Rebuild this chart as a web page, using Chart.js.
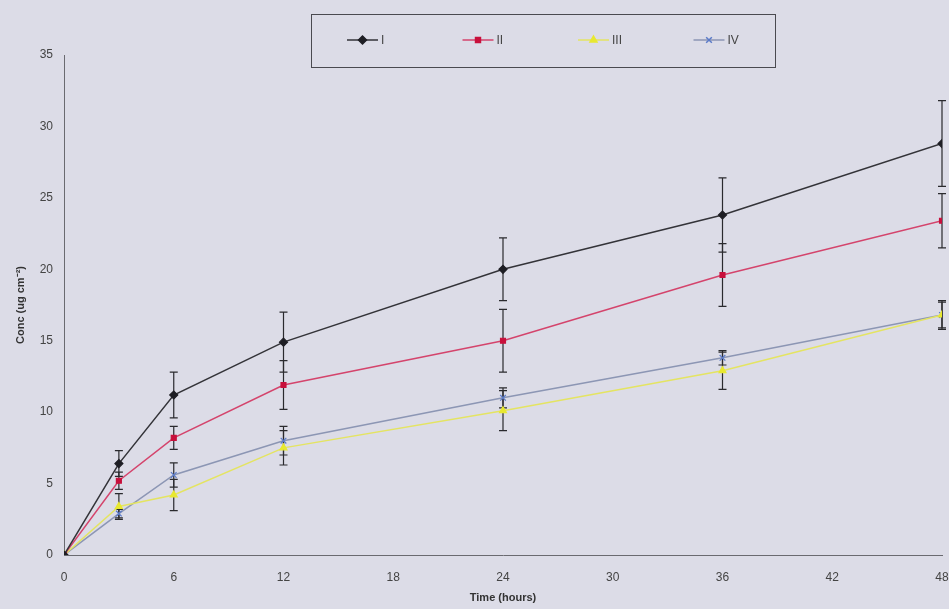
<!DOCTYPE html>
<html>
<head>
<meta charset="utf-8">
<script src="https://cdn.jsdelivr.net/npm/chart.js@4"></script>
<style>
  html, body { margin:0; padding:0; background:#dcdce7; }
  #wrap { width:949px; height:609px; position:relative; }
</style>
</head>
<body>
<div id="wrap"><canvas id="chartConc"></canvas></div>
<script>
// ── Datos ─────────────────────────────────────────────────────────────────────
const TIEMPOS = [0, 3, 6, 12, 24, 36, 48];
const X_TICKS = [0, 6, 12, 18, 24, 30, 36, 42, 48];

const SERIES = ['I', 'II', 'III', 'IV'];
const CONC_I   = [0, 6.4, 11.2, 14.9, 20.0, 23.8, 28.8];
const CONC_II  = [0, 5.2, 8.2, 11.9, 15.0, 19.6, 23.4];
const CONC_III = [0, 3.4, 4.2, 7.5, 10.1, 12.9, 16.8];
const CONC_IV  = [0, 2.9, 5.6, 8.0, 11.0, 13.8, 16.8];

const ERR_I   = [0, 0.9, 1.6, 2.1, 2.2, 2.6, 3.0];
const ERR_II  = [0, 0.6, 0.8, 1.7, 2.2, 2.2, 1.9];
const ERR_III = [0, 0.9, 1.1, 1.2, 1.4, 1.3, 1.0];
const ERR_IV  = [0, 0.3, 0.85, 1.0, 0.7, 0.5, 0.9];

const FONT = 'Liberation Sans, Arial, sans-serif';
const bg = '#dcdce7';

const toXY = arr => arr.map((v, i) => ({ x: TIEMPOS[i], y: v }));

const datasets = [
    { label:SERIES[0], data:toXY(CONC_I),   err:ERR_I,   borderColor:'#333338', backgroundColor:'#1e1e24', pointStyle:'rectRot',  pointRadius:4,   lineColor:'#333338' },
    { label:SERIES[1], data:toXY(CONC_II),  err:ERR_II,  borderColor:'#d4446c', backgroundColor:'#c8103c', pointStyle:'rect',     pointRadius:3.5, lineColor:'#d4446c' },
    { label:SERIES[2], data:toXY(CONC_III), err:ERR_III, borderColor:'#e4e462', backgroundColor:'#e8e830', pointStyle:'triangle', pointRadius:4,   lineColor:'#e4e462' },
    { label:SERIES[3], data:toXY(CONC_IV),  err:ERR_IV,  borderColor:'#8c96b4', backgroundColor:'#5a7ac8', pointStyle:'crossRot', pointRadius:4,   lineColor:'#8c96b4' }
].map(d => Object.assign(d, {
    borderWidth:1.5, pointBorderColor:d.backgroundColor, pointBorderWidth:1.2, tension:0, fill:false
}));

// ── Plugins ───────────────────────────────────────────────────────────────────
const fondo = { id:'fondo', beforeDraw(chart) {
    const {ctx} = chart;
    ctx.save();
    ctx.fillStyle = bg;
    ctx.fillRect(0, 0, chart.width, chart.height);
    ctx.restore();
}};

const barrasError = { id:'barrasError', beforeDatasetsDraw(chart) {
    const {ctx, scales:{x, y}} = chart;
    ctx.save();
    ctx.strokeStyle = '#2a2a2e';
    ctx.lineWidth = 1.2;
    chart.data.datasets.forEach(ds => {
        ds.data.forEach((p, i) => {
            const e = ds.err[i];
            if (!e) return;
            const px = x.getPixelForValue(p.x);
            const top = y.getPixelForValue(p.y + e);
            const bot = y.getPixelForValue(p.y - e);
            ctx.beginPath();
            ctx.moveTo(px, top); ctx.lineTo(px, bot);
            ctx.moveTo(px - 4, top); ctx.lineTo(px + 4, top);
            ctx.moveTo(px - 4, bot); ctx.lineTo(px + 4, bot);
            ctx.stroke();
        });
    });
    ctx.restore();
}};

const leyenda = { id:'leyenda', afterDraw(chart) {
    const {ctx} = chart;
    ctx.save();
    ctx.strokeStyle = '#4a4a50';
    ctx.lineWidth = 1;
    ctx.strokeRect(311.5, 14.5, 464, 53);
    const cy = 40;
    chart.data.datasets.forEach((ds, i) => {
        const x0 = 347 + i * 115.5;
        ctx.strokeStyle = ds.lineColor;
        ctx.lineWidth = 1.5;
        ctx.beginPath(); ctx.moveTo(x0, cy); ctx.lineTo(x0 + 31, cy); ctx.stroke();
        ctx.fillStyle = ds.backgroundColor;
        ctx.strokeStyle = ds.backgroundColor;
        Chart.helpers.drawPoint(ctx, {
            pointStyle: ds.pointStyle, radius: ds.pointRadius, rotation: 0, borderWidth: 1.2
        }, x0 + 15.5, cy);
        ctx.fillStyle = '#444';
        ctx.font = '12px ' + FONT;
        ctx.textAlign = 'left';
        ctx.textBaseline = 'middle';
        ctx.fillText(ds.label, x0 + 34, cy + 1);
    });
    ctx.restore();
}};

// ── Gráfica ───────────────────────────────────────────────────────────────────
new Chart(document.getElementById('chartConc'), {
    type:'line',
    data:{ datasets },
    options:{
        responsive:true, maintainAspectRatio:false, animation:false,
        layout:{ padding:{ top:55, right:7, left:0, bottom:0 } },
        plugins:{ legend:{display:false}, tooltip:{enabled:false} },
        scales:{
            x:{
                type:'linear', min:0, max:48,
                afterBuildTicks: s => { s.ticks = X_TICKS.map(v => ({ value:v })); },
                afterFit: s => { s.height = 54; s.paddingRight = 0; s.paddingLeft = 0; },
                grid:{ display:false, drawTicks:true, tickLength:5, tickColor:'#6a6a70' },
                border:{ color:'#6a6a70', width:1 },
                ticks:{ font:{ size:12, family:FONT }, color:'#444', padding:10, maxRotation:0 },
                title:{ display:true, text:'Time (hours)', font:{ size:11, weight:'bold', family:FONT }, color:'#333', padding:{ top:2 } }
            },
            y:{
                min:0, max:35,
                ticks:{ stepSize:5, font:{ size:12, family:FONT }, color:'#444', padding:6 },
                afterFit: s => { s.width = 64; },
                grid:{ display:false, drawTicks:true, tickLength:5, tickColor:'#6a6a70' },
                border:{ color:'#6a6a70', width:1 },
                title:{ display:true, text:'Conc (ug cm\u207B\u00B2)', font:{ size:11, weight:'bold', family:FONT }, color:'#333', padding:{ top:14, bottom:0 } }
            }
        }
    },
    plugins:[fondo, barrasError, leyenda]
});
</script>
</body>
</html>
